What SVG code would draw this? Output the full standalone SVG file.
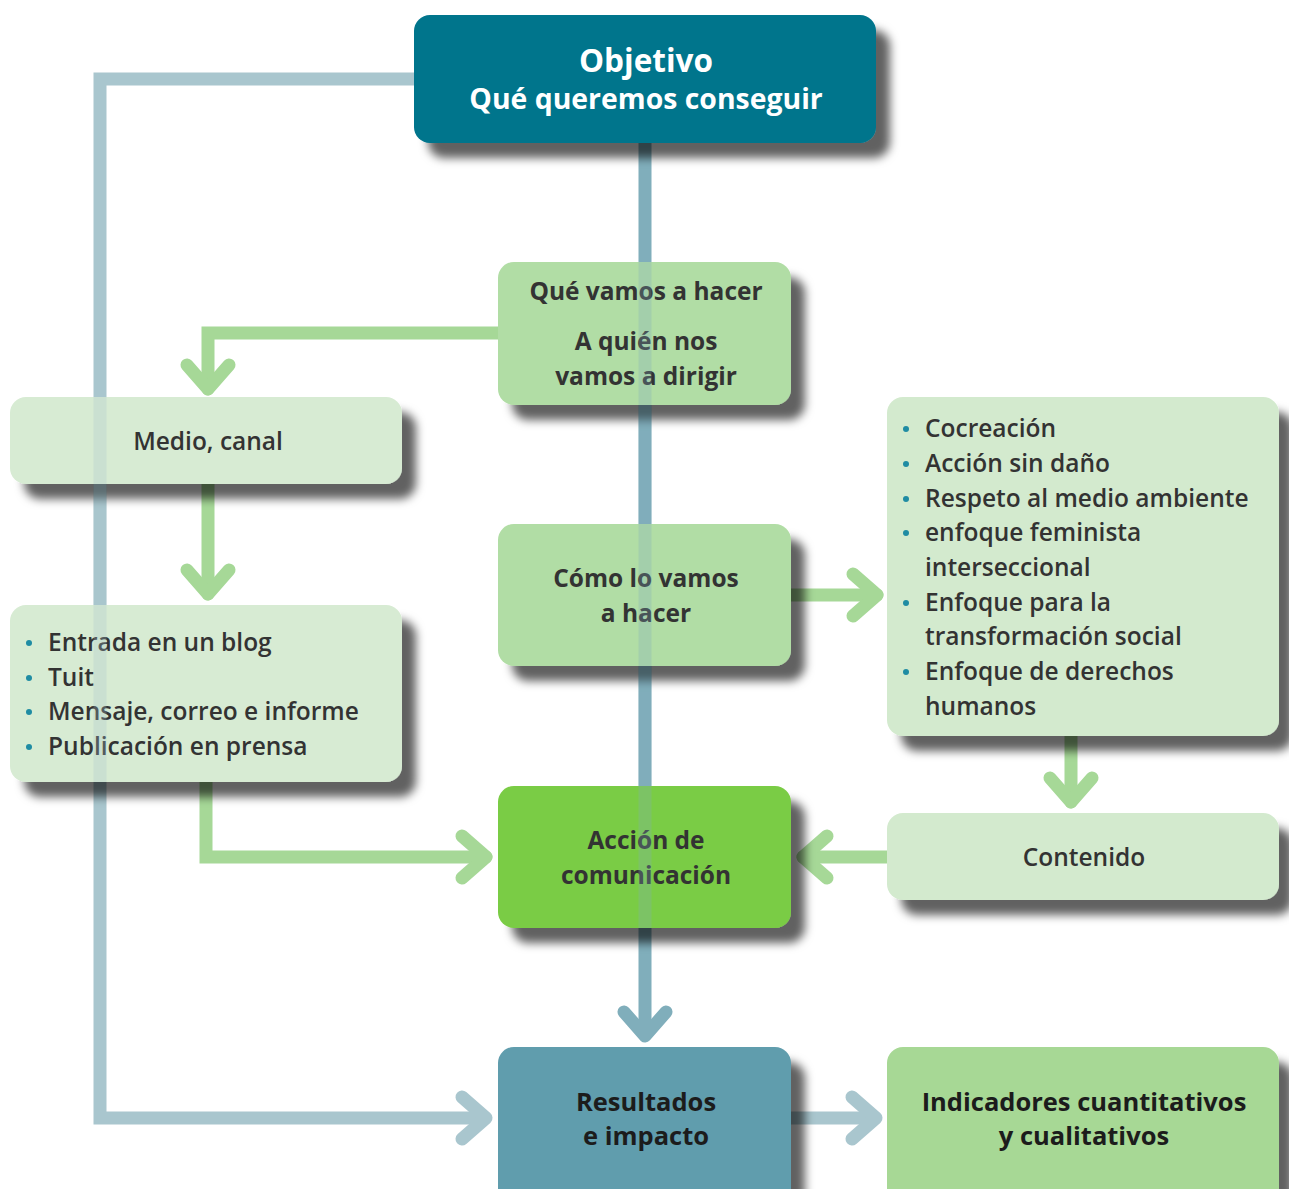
<svg xmlns="http://www.w3.org/2000/svg" width="1289" height="1189" viewBox="0 0 1289 1189">
<defs>
<filter id="sh" x="-10%" y="-10%" width="130%" height="140%">
<feDropShadow dx="14" dy="15" stdDeviation="5" flood-color="#000" flood-opacity="0.62"/>
</filter>
<marker id="mg" markerUnits="userSpaceOnUse" orient="auto" overflow="visible" refX="0" refY="0" markerWidth="1" markerHeight="1">
<path d="M-24,-21 L0,0 L-24,21" fill="none" stroke="#A6D897" stroke-width="13" stroke-linecap="round" stroke-linejoin="round"/>
</marker>
<marker id="mb" markerUnits="userSpaceOnUse" orient="auto" overflow="visible" refX="0" refY="0" markerWidth="1" markerHeight="1">
<path d="M-24,-21 L0,0 L-24,21" fill="none" stroke="#80AEBB" stroke-width="13" stroke-linecap="round" stroke-linejoin="round"/>
</marker>
<marker id="ml" markerUnits="userSpaceOnUse" orient="auto" overflow="visible" refX="0" refY="0" markerWidth="1" markerHeight="1">
<path d="M-24,-21 L0,0 L-24,21" fill="none" stroke="#A9C6CE" stroke-width="13" stroke-linecap="round" stroke-linejoin="round"/>
</marker>
</defs>
<style>
.g{fill:none;stroke:#A6D897;stroke-width:13;stroke-linecap:round;stroke-linejoin:miter}
.b{fill:none;stroke:#80AEBB;stroke-width:13;stroke-linejoin:miter}
.l{fill:none;stroke:#A9C6CE;stroke-width:13;stroke-linejoin:miter}
.box{filter:url(#sh)}
text{font-family:"Open Sans","Noto Sans","DejaVu Sans",sans-serif;fill:#333;font-size:24.5px}
.t{font-weight:700;text-anchor:middle}
.s{font-weight:600}
.c{text-anchor:middle}
.w{fill:#fff}
.k{fill:#1c1c1c;font-size:25.5px}
.h1{font-size:31.5px}
.h2{font-size:28.4px}
.dot{fill:#1F8CA3}
.ov{opacity:0.28}
</style>
<g id="connectors">
<path class="l" d="M414,79 H100 V1118 H486" marker-end="url(#ml)"/>
<path class="b" d="M645,143 V1036" marker-end="url(#mb)"/>
<path class="l" d="M791,1118 H876" marker-end="url(#ml)"/>
<path class="g" d="M498,333 H208 V389" marker-end="url(#mg)"/>
<path class="g" d="M208,484 V594" marker-end="url(#mg)"/>
<path class="g" d="M206,782 V857 H486" marker-end="url(#mg)"/>
<path class="g" d="M791,595 H877" marker-end="url(#mg)"/>
<path class="g" d="M1071,736 V802" marker-end="url(#mg)"/>
<path class="g" d="M887,857 H803" marker-end="url(#mg)"/>
</g>
<g id="objetivo">
<rect class="box" x="414" y="15" width="462" height="128" rx="16" fill="#00748C"/>
<text class="t w h1" x="646" y="72">Objetivo</text>
<text class="t w h2" x="646" y="109">Qué queremos conseguir</text>
</g>
<g id="que-vamos">
<rect class="box" x="498" y="262" width="293" height="143" rx="16" fill="#B1DDA5"/>
<text class="t" x="646" y="300">Qué vamos a hacer</text>
<text class="t" x="646" y="350">A quién nos</text>
<text class="t" x="646" y="385">vamos a dirigir</text>
</g>
<g id="medio">
<rect class="box" x="10" y="397" width="392" height="87" rx="16" fill="#D7EBD3"/>
<text class="s c" x="208" y="450">Medio, canal</text>
</g>
<g id="entrada">
<rect class="box" x="10" y="605" width="392" height="177" rx="16" fill="#D7EBD3"/>
<circle class="dot" cx="29" cy="643" r="3"/>
<circle class="dot" cx="29" cy="678" r="3"/>
<circle class="dot" cx="29" cy="712" r="3"/>
<circle class="dot" cx="29" cy="747" r="3"/>
<text class="s" x="48" y="651">Entrada en un blog</text>
<text class="s" x="48" y="686">Tuit</text>
<text class="s" x="48" y="720">Mensaje, correo e informe</text>
<text class="s" x="48" y="755">Publicación en prensa</text>
</g>
<g id="como">
<rect class="box" x="498" y="524" width="293" height="142" rx="16" fill="#B1DDA5"/>
<text class="t" x="646" y="587">Cómo lo vamos</text>
<text class="t" x="646" y="622">a hacer</text>
</g>
<g id="enfoques">
<rect class="box" x="887" y="397" width="392" height="339" rx="16" fill="#D3EACE"/>
<circle class="dot" cx="906" cy="429" r="3"/>
<circle class="dot" cx="906" cy="464" r="3"/>
<circle class="dot" cx="906" cy="499" r="3"/>
<circle class="dot" cx="906" cy="533" r="3"/>
<circle class="dot" cx="906" cy="603" r="3"/>
<circle class="dot" cx="906" cy="672" r="3"/>
<text class="s" x="925" y="437">Cocreación</text>
<text class="s" x="925" y="472">Acción sin daño</text>
<text class="s" x="925" y="507">Respeto al medio ambiente</text>
<text class="s" x="925" y="541">enfoque feminista</text>
<text class="s" x="925" y="576">interseccional</text>
<text class="s" x="925" y="611">Enfoque para la</text>
<text class="s" x="925" y="645">transformación social</text>
<text class="s" x="925" y="680">Enfoque de derechos</text>
<text class="s" x="925" y="715">humanos</text>
</g>
<g id="contenido">
<rect class="box" x="887" y="813" width="392" height="87" rx="16" fill="#D3EACE"/>
<text class="s c" x="1084" y="866">Contenido</text>
</g>
<g id="accion">
<rect class="box" x="498" y="786" width="293" height="142" rx="16" fill="#7ACC44"/>
<text class="t" x="646" y="849">Acción de</text>
<text class="t" x="646" y="884">comunicación</text>
</g>
<g id="resultados">
<rect class="box" x="498" y="1047" width="293" height="160" rx="16" fill="#609DAD"/>
<text class="t k" x="646" y="1111">Resultados</text>
<text class="t k" x="646" y="1145">e impacto</text>
</g>
<g id="indicadores">
<rect class="box" x="887" y="1047" width="392" height="160" rx="16" fill="#A7D895"/>
<text class="t k" x="1084" y="1111">Indicadores cuantitativos</text>
<text class="t k" x="1084" y="1145">y cualitativos</text>
</g>
<g id="overlay" class="ov">
<path class="l" d="M100,397 V782"/>
<path class="b" d="M645,262 V928"/>
</g>
</svg>
